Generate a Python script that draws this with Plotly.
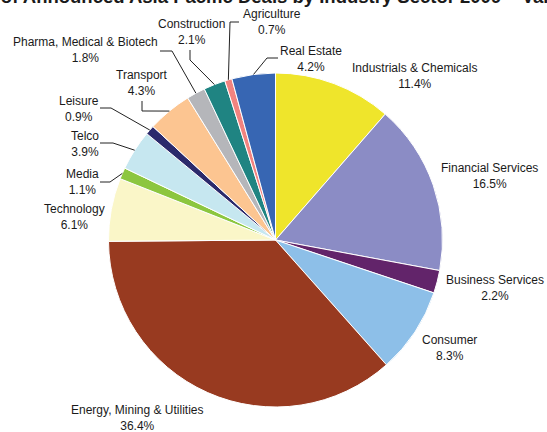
import math
import plotly.graph_objects as go

# Deal value share by industry sector, clockwise from 12 o'clock
sectors = [
    "Industrials & Chemicals", "Financial Services", "Business Services",
    "Consumer", "Energy, Mining & Utilities", "Technology", "Media", "Telco",
    "Leisure", "Transport", "Pharma, Medical & Biotech", "Construction",
    "Agriculture", "Real Estate",
]
shares = [11.4, 16.5, 2.2, 8.3, 36.4, 6.1, 1.1, 3.9, 0.9, 4.3, 1.8, 2.1, 0.7, 4.2]
colors = [
    "#EFE52B", "#8B8CC5", "#62246A", "#8DBFE8", "#983A20", "#FAF6C8", "#8CC63F",
    "#C6E7F0", "#2B2A6C", "#FCC591", "#B5B6BA", "#1F8482", "#F2837F", "#3766B3",
]
title_text = "Breakdown of Announced Asia Pacific Deals by Industry Sector 2009 \u2013 Value"

W, H = 547, 432
CX, CY, R = 275.5, 240.0, 167.0

# Label centres (px) and leader-line elbows (px) for the outside labels
label_pos = {
    "Industrials & Chemicals": (414, 76),
    "Financial Services": (489, 176),
    "Business Services": (495, 288),
    "Consumer": (449, 348),
    "Energy, Mining & Utilities": (137, 418),
    "Technology": (74, 217),
    "Media": (82, 182),
    "Telco": (85, 144),
    "Leisure": (79, 109),
    "Transport": (142, 83),
    "Pharma, Medical & Biotech": (85, 50),
    "Construction": (191, 32),
    "Agriculture": (272, 22),
    "Real Estate": (311, 59),
}
leader_elbows = {
    "Media": [(100, 182), (110, 182)],
    "Telco": [(100, 143), (113, 143)],
    "Leisure": [(100, 108), (111, 108)],
    "Transport": [(142, 101), (142, 111)],
    "Pharma, Medical & Biotech": [(160, 51), (172, 51)],
    "Construction": [(190, 50), (190, 60)],
    "Agriculture": [(239, 22), (230, 22)],
    "Real Estate": [(278, 58), (267, 58)],
}


def px(x, y):
    return x / W, 1 - y / H


fig = go.Figure(
    go.Pie(
        labels=sectors,
        values=shares,
        sort=False,
        direction="clockwise",
        rotation=0,
        marker=dict(colors=colors, line=dict(color="white", width=1)),
        textinfo="none",
        hoverinfo="label+percent",
        showlegend=False,
        domain=dict(
            x=[(CX - R) / W, (CX + R) / W],
            y=[1 - (CY + R) / H, 1 - (CY - R) / H],
        ),
    )
)

total = sum(shares)
annotations = []
shapes = []
cum = 0.0
for name, v in zip(sectors, shares):
    mid = (cum + v / 2) / total * 2 * math.pi
    cum += v
    lx, ly = label_pos[name]
    ax, ay = px(lx, ly)
    annotations.append(dict(
        x=ax, y=ay, xref="paper", yref="paper", xanchor="center", yanchor="middle",
        text=f"{name}<br>{v:.1f}%", showarrow=False, align="center",
        font=dict(family="Liberation Sans, Arial", size=12, color="#1a1a1a"),
    ))
    if name in leader_elbows:
        ex = CX + R * math.sin(mid)
        ey = CY - R * math.cos(mid)
        pts = leader_elbows[name] + [(ex, ey)]
        path = "M " + " L ".join(f"{px(x, y)[0]:.5f},{px(x, y)[1]:.5f}" for x, y in pts)
        shapes.append(dict(type="path", xref="paper", yref="paper", path=path,
                           line=dict(color="#222222", width=1)))

annotations.append(dict(
    x=-106 / W, y=1 - 9.5 / H, xref="paper", yref="paper", xanchor="left", yanchor="bottom",
    text=f"<b>{title_text}</b>", showarrow=False,
    font=dict(family="Liberation Sans, Arial", size=18.5, color="#1a1a1a"),
))

fig.update_layout(
    width=W, height=H,
    margin=dict(l=0, r=0, t=0, b=0),
    paper_bgcolor="white", plot_bgcolor="white",
    annotations=annotations, shapes=shapes,
)

fig.write_html("out.html")
